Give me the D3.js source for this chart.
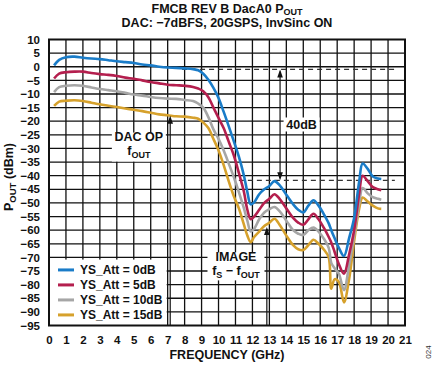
<!DOCTYPE html>
<html><head><meta charset="utf-8">
<script src="https://cdn.jsdelivr.net/npm/d3@7"></script>
<style>
html,body{margin:0;padding:0;background:#fff;}
svg{display:block;font-family:"Liberation Sans",Arial,sans-serif;font-weight:bold;}
</style></head>
<body><svg id="chart" width="435" height="365"></svg>
<script>
const freq = [0.3,0.6,1.0,1.5,2.0,2.5,3.0,3.5,4.0,4.5,5.0,5.5,6.0,6.5,7.0,7.5,8.0,8.5,8.8,9.1,9.4,9.7,10.0,10.3,10.6,10.9,11.2,11.5,11.7,11.9,12.1,12.4,12.7,13.0,13.3,13.6,14.0,14.4,14.7,15.0,15.3,15.6,15.9,16.2,16.5,16.65,16.85,17.1,17.4,17.7,18.0,18.3,18.5,18.8,19.1,19.4,19.6];
const att0 = [0.5,2.5,3.5,3.7,3.3,3.0,2.8,2.4,2.0,1.7,1.4,0.8,0.5,0.0,-0.3,-0.4,-0.6,-0.9,-1.3,-2.6,-4.8,-7.8,-11.5,-16.5,-21.8,-27.3,-33,-40,-46,-50.5,-49.8,-46.8,-45,-43.8,-42,-43.5,-47,-50.5,-52.5,-53.5,-51,-49,-51,-54,-57.5,-60,-63,-66.5,-69.5,-63,-55.5,-42,-35.5,-37.5,-40.3,-41,-41.2];
const att5 = [-4.3,-2.5,-2.0,-1.8,-1.8,-2.3,-2.7,-3.0,-3.4,-4.0,-4.4,-5.0,-5.6,-6.1,-6.6,-6.8,-7.0,-7.4,-8.0,-9.0,-11.2,-15,-18.8,-22.5,-27.5,-32.5,-39,-46,-52.5,-56,-55,-52.5,-50,-48.5,-46.8,-48.5,-52,-55.5,-57.2,-58,-56,-54,-56,-59,-62.5,-64.5,-68,-72.5,-76,-69,-60,-46.5,-40,-42,-44.2,-45,-45.3];
const att10 = [-9.3,-7.5,-7.0,-6.8,-7.0,-7.6,-8.2,-8.6,-9.0,-9.6,-10.2,-10.6,-11.1,-11.5,-11.7,-11.8,-12.2,-12.6,-13.5,-15,-18.5,-23,-26.5,-30.7,-35.5,-40.5,-46,-52,-56.5,-60.5,-59.5,-56,-53.5,-52.3,-51.5,-53,-56.5,-60,-61.3,-61.8,-60,-59,-60.5,-63,-66.5,-72,-74,-76,-82,-73,-62,-50,-44.5,-46.5,-47.9,-48.5,-48.8];
const att15 = [-14.4,-12.8,-12.5,-12.3,-12.6,-13.2,-13.8,-14.3,-14.8,-15.3,-15.8,-16.3,-16.9,-17.5,-17.8,-18.2,-18.3,-18.7,-19.1,-20.5,-22.5,-26.5,-30.7,-36,-42,-47.5,-52,-58,-62,-64.4,-62.5,-60.5,-58.5,-57.3,-55.8,-58,-62,-65.5,-67,-67.3,-65.5,-63.5,-65,-67,-70,-81.5,-78,-79,-86.5,-78,-64,-52,-48,-49.5,-51,-52,-52.2];
const seriesNames = ["YS_Att = 0dB","YS_Att = 5dB","YS_Att = 10dB","YS_Att = 15dB"];
const seriesColors = ["#1a7cc8","#b41f4e","#a6a6a6","#d6a12c"];
const xTicks = d3.range(0,22,1);
const yTicks = d3.range(-95,11,5);

const svg = d3.select("#chart");
const L=49, R=405, T=39.5, B=325.5;
const x = d3.scaleLinear().domain([0,21]).range([L,R]);
const y = d3.scaleLinear().domain([-95,10]).range([B,T]);
const fmt = v => (v<0?"\u2212"+Math.abs(v):""+v);

// grid
svg.append("g").selectAll("line").data(xTicks.slice(1,-1)).join("line")
  .attr("x1",d=>x(d)).attr("x2",d=>x(d)).attr("y1",T).attr("y2",B)
  .attr("stroke","#111").attr("stroke-width",1.3);
svg.append("g").selectAll("line").data(yTicks.slice(1,-1)).join("line")
  .attr("x1",L).attr("x2",R).attr("y1",d=>y(d)).attr("y2",d=>y(d))
  .attr("stroke","#111").attr("stroke-width",1.3);

// axes labels
const xa = svg.append("g").attr("transform",`translate(0,${B})`)
  .call(d3.axisBottom(x).tickValues(xTicks).tickSize(0).tickPadding(10).tickFormat(d=>d));
const ya = svg.append("g").attr("transform",`translate(${L},0)`)
  .call(d3.axisLeft(y).tickValues(yTicks).tickSize(0).tickPadding(9).tickFormat(fmt));
[xa,ya].forEach(a=>{a.select(".domain").remove();
  a.selectAll("text").attr("font-family","Liberation Sans, Arial, sans-serif").attr("font-weight","bold").attr("font-size",11.5).attr("fill","#111");});

// annotation boxes
function box(cx,cy,w,h){svg.append("rect").attr("x",cx-w/2).attr("y",cy-h/2).attr("width",w).attr("height",h).attr("fill","#fff");}
box(x(5.3),y(-29.5),54,29);
box(x(14.9),y(-21.2),36,14);
box(x(11.03),y(-73.3),57,28);

// dashed lines
svg.append("line").attr("x1",x(7.85)).attr("x2",x(20.4)).attr("y1",y(-1)).attr("y2",y(-1))
  .attr("stroke","#333").attr("stroke-width",1.2).attr("stroke-dasharray","5,4");
svg.append("line").attr("x1",x(11.2)).attr("x2",x(20.4)).attr("y1",y(-41.7)).attr("y2",y(-41.7))
  .attr("stroke","#333").attr("stroke-width",1.2).attr("stroke-dasharray","5,4");

// curves
const series=[att0,att5,att10,att15];
const line = d3.line().x((d,i)=>x(freq[i])).y(d=>y(d)).curve(d3.curveCatmullRom.alpha(0.5));
series.slice().reverse().forEach((s,k)=>{
  const i = series.length-1-k;
  svg.append("path").datum(s).attr("d",line).attr("fill","none")
    .attr("stroke",seriesColors[i]).attr("stroke-width",2.6).attr("stroke-linejoin","round");
});

// arrows
function arrowHead(xp,yp,dir){ // dir -1 up, 1 down
  svg.append("path").attr("d",`M${xp},${yp} L${xp-2.8},${yp-dir*8} L${xp+2.8},${yp-dir*8} Z`).attr("fill","#111");
}
function vline(xp,y1,y2){svg.append("line").attr("x1",xp).attr("x2",xp).attr("y1",y1).attr("y2",y2).attr("stroke","#111").attr("stroke-width",1.2);}
vline(x(7.15),B,y(-18)+2); arrowHead(x(7.15),y(-18),-1);
vline(x(12.85),B,y(-58.8)+2); arrowHead(x(12.85),y(-58.8),-1);
vline(x(13.63),y(-1)+2,y(-41.7)-2); arrowHead(x(13.63),y(-1),-1); arrowHead(x(13.63),y(-41.7),1);

// annotation text
function label(cx,yb,main,sub,after){
  const t=svg.append("text").attr("x",cx).attr("y",yb).attr("text-anchor","middle").attr("font-size",12.5).attr("fill","#111");
  t.append("tspan").text(main);
  if(sub!==undefined){t.append("tspan").attr("font-size",9).attr("dy",3).text(sub);
    if(after){t.append("tspan").attr("font-size",12.5).attr("dy",-3).text(after[0]);
      t.append("tspan").attr("font-size",9).attr("dy",3).text(after[1]);}}
}
label(x(5.3),y(-27.3),"DAC OP");
label(x(5.3),y(-32.4),"f","OUT");
label(x(14.9),y(-22.8),"40dB");
label(x(11.03),y(-71.2),"IMAGE");
label(x(11.03),y(-76.6),"f","S",[" \u2212 f","OUT"]);

// legend
const lg = svg.append("g");
lg.append("rect").attr("x",L).attr("y",y(-70.8)).attr("width",x(7.0)-L-1).attr("height",B-y(-70.8)).attr("fill","#fff");
seriesNames.forEach((n,i)=>{
  const cy = y(-74.6) + i*15;
  lg.append("line").attr("x1",L+9).attr("x2",L+25).attr("y1",cy).attr("y2",cy).attr("stroke",seriesColors[i]).attr("stroke-width",3);
  lg.append("text").attr("x",L+31).attr("y",cy+4.3).attr("font-size",12).attr("fill","#111").text(n);
});

// border
svg.append("rect").attr("x",L).attr("y",T).attr("width",R-L).attr("height",B-T).attr("fill","none").attr("stroke","#111").attr("stroke-width",2);

// titles
const t1 = svg.append("text").attr("x",227).attr("y",12.5).attr("text-anchor","middle").attr("font-size",12.5).attr("fill","#111");
t1.append("tspan").text("FMCB REV B DacA0 P");
t1.append("tspan").attr("font-size",9).attr("dy",2.5).text("OUT");
svg.append("text").attr("x",227).attr("y",27).attr("text-anchor","middle").attr("font-size",12.5).attr("fill","#111").text("DAC: \u22127dBFS, 20GSPS, InvSinc ON");
svg.append("text").attr("x",227).attr("y",359).attr("text-anchor","middle").attr("font-size",12.5).attr("fill","#111").text("FREQUENCY (GHz)");
const yl = svg.append("text").attr("transform","translate(13,177) rotate(-90)").attr("text-anchor","middle").attr("font-size",12.5).attr("fill","#111");
yl.append("tspan").text("P");
yl.append("tspan").attr("font-size",9.5).attr("dy",3).text("OUT");
yl.append("tspan").attr("dy",-3).text(" (dBm)");
svg.append("text").attr("transform","translate(431,352) rotate(-90)").attr("text-anchor","middle").attr("font-size",8).attr("font-weight","normal").attr("fill","#333").text("024");
</script></body></html>
